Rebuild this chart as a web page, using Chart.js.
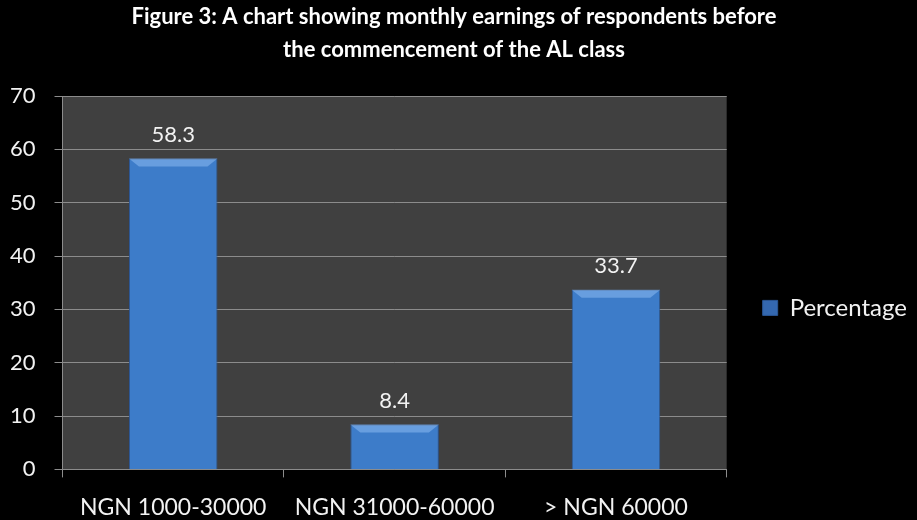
<!DOCTYPE html>
<html>
<head>
<meta charset="utf-8">
<script src="https://cdn.jsdelivr.net/npm/chart.js@4.4.0/dist/chart.umd.min.js"></script>
<style>
  html, body { margin: 0; padding: 0; background: #000; }
  #wrap { width: 917px; height: 520px; }
</style>
</head>
<body>
<div id="wrap"><canvas id="chart" width="917" height="520"></canvas></div>
<script>
const categories = ["NGN 1000-30000", "NGN 31000-60000", "> NGN 60000"];
const percentages = [58.3, 8.4, 33.7];
const seriesName = "Percentage";
const titleLines = [
  "Figure 3: A chart showing monthly earnings of respondents before",
  "the commencement of the AL class"
];

const FONT = "Lato, 'Open Sans', sans-serif";

// dark plot background
const plotBg = {
  id: "plotBg",
  beforeDraw(chart) {
    const { ctx, chartArea: a } = chart;
    ctx.save();
    ctx.fillStyle = "#000";
    ctx.fillRect(0, 0, chart.width, chart.height);
    ctx.fillStyle = "#404040";
    ctx.fillRect(a.left, a.top, a.right - a.left, a.bottom - a.top);
    ctx.restore();
  }
};

// value labels above the bars + light bevel on top edge
const valueLabels = {
  id: "valueLabels",
  afterDatasetsDraw(chart) {
    const { ctx } = chart;
    const meta = chart.getDatasetMeta(0);
    ctx.save();
    meta.data.forEach((bar, i) => {
      const half = bar.width / 2;
      ctx.fillStyle = "rgba(140,185,240,0.55)";
      ctx.beginPath();
      ctx.moveTo(bar.x - half, bar.y);
      ctx.lineTo(bar.x + half, bar.y);
      ctx.lineTo(bar.x + half - 10, bar.y + 8);
      ctx.lineTo(bar.x - half + 10, bar.y + 8);
      ctx.closePath();
      ctx.fill();
      ctx.fillStyle = "#f2f2f2";
      ctx.font = "22px " + FONT;
      ctx.textAlign = "center";
      ctx.textBaseline = "bottom";
      ctx.fillText(percentages[i].toFixed(1), bar.x, bar.y - 13);
    });
    ctx.restore();
  }
};

function barFill(context) {
  const chart = context.chart;
  const el = context.element;
  if (!chart.chartArea || !el || !el.width) return "#3d7cc9";
  const g = chart.ctx.createLinearGradient(el.x - el.width / 2, 0, el.x + el.width / 2, 0);
  g.addColorStop(0, "#3468b0");
  g.addColorStop(0.5, "#4382d2");
  g.addColorStop(1, "#3468b0");
  return g;
}

new Chart(document.getElementById("chart"), {
  type: "bar",
  data: {
    labels: categories,
    datasets: [{
      label: seriesName,
      data: percentages,
      backgroundColor: barFill,
      borderColor: "#2b5796",
      borderWidth: 1,
      categoryPercentage: 0.8,
      barPercentage: 0.5
    }]
  },
  options: {
    responsive: false,
    animation: false,
    layout: { padding: { left: -9, right: 0, top: 0, bottom: -17 } },
    plugins: {
      title: {
        display: true,
        text: titleLines,
        color: "#ffffff",
        font: { family: FONT, size: 22, weight: "bold", lineHeight: 1.5 },
        padding: { top: 0, bottom: 30 }
      },
      legend: {
        position: "right",
        title: {
          display: true,
          text: " ",
          font: { family: FONT, size: 24 },
          padding: { top: 0, bottom: 50 }
        },
        labels: {
          color: "#f2f2f2",
          font: { family: FONT, size: 24 },
          boxWidth: 15,
          boxHeight: 15,
          padding: 36
        }
      },
      tooltip: { enabled: false }
    },
    scales: {
      x: {
        grid: {
          offset: true,
          drawOnChartArea: false,
          drawTicks: true,
          tickLength: 8,
          color: "#8c8c8c"
        },
        border: { color: "#8c8c8c" },
        ticks: {
          color: "#f2f2f2",
          font: { family: FONT, size: 23 },
          padding: 16,
          maxRotation: 0
        }
      },
      y: {
        min: 0,
        max: 70,
        grid: { color: "#8c8c8c", tickLength: 8 },
        border: { color: "#8c8c8c" },
        ticks: {
          stepSize: 10,
          color: "#f2f2f2",
          font: { family: FONT, size: 22 },
          padding: 19
        }
      }
    }
  },
  plugins: [plotBg, valueLabels]
});
</script>
</body>
</html>
